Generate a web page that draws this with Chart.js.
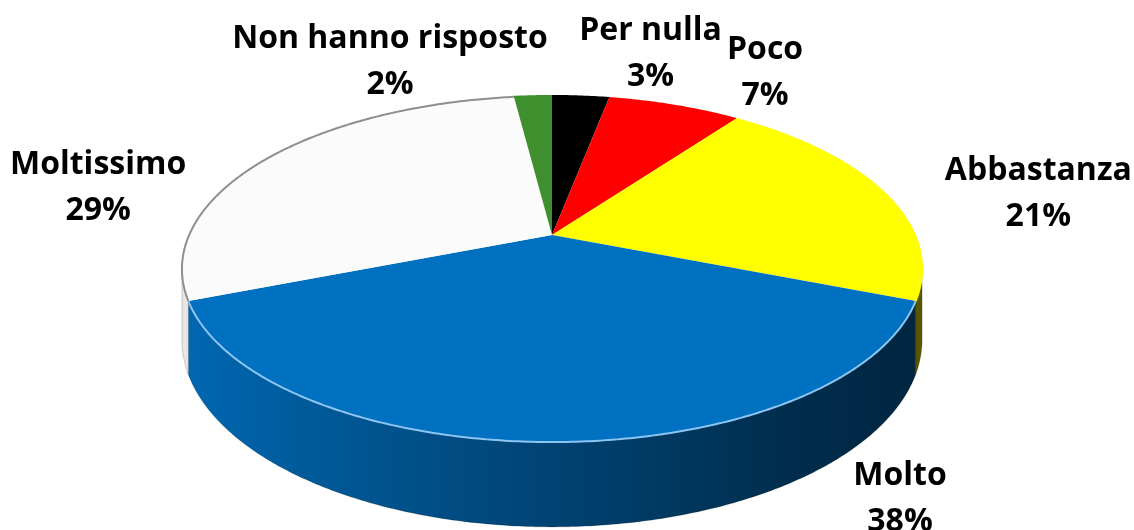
<!DOCTYPE html>
<html>
<head>
<meta charset="utf-8">
<script src="https://cdn.jsdelivr.net/npm/chart.js@4/dist/chart.umd.min.js"></script>
<style>
  html, body { margin: 0; padding: 0; background: #fff; }
</style>
</head>
<body>
<canvas id="pie" width="1134" height="530"></canvas>
<script>
const categories = ['Per nulla', 'Poco', 'Abbastanza', 'Molto', 'Moltissimo', 'Non hanno risposto'];
const percentages = [3, 7, 21, 38, 29, 2];
const sliceColors = ['#000000', '#ff0000', '#ffff00', '#0070c0', '#fbfbfb', '#3f8f2f'];
const rimColors = ['#000000', '#ff0000', '#ffff00', '#8cc4f2', '#8f8f8f', '#3f8f2f'];

// tilted-disc projection, all sizes relative to the pie radius
const VIEW = { sx: 1.544, sy: 0.708, tilt: 0.1965, depth: 0.29 };

function project(arc, t, drop) {
    const u = Math.cos(t), v = Math.sin(t);
    const w = 1 - VIEW.tilt * v;
    const r = arc.outerRadius;
    return [
        arc.x + r * VIEW.sx * u / w,
        arc.y + r * (VIEW.sy * v + (drop ? VIEW.depth : 0)) / w
    ];
}

function shade(hex, f) {
    const n = parseInt(hex.slice(1), 16);
    const c = [(n >> 16) & 255, (n >> 8) & 255, n & 255].map(x => Math.round(x * f));
    return `rgb(${c[0]},${c[1]},${c[2]})`;
}

class Arc3D extends Chart.ArcElement {
    draw(ctx) {
        const arc = this.getProps(['x', 'y', 'startAngle', 'endAngle', 'outerRadius']);
        const o = this.options;
        const s = arc.startAngle, e = arc.endAngle;
        const rimPath = (a, b, drop, first) => {
            const n = Math.max(2, Math.ceil(Math.abs(b - a) / 0.01));
            for (let i = 0; i <= n; i++) {
                const p = project(arc, a + (b - a) * i / n, drop);
                if (first && i === 0) ctx.moveTo(p[0], p[1]); else ctx.lineTo(p[0], p[1]);
            }
        };

        ctx.save();

        // front wall, only where the rim faces the viewer
        const edge = Math.asin(VIEW.tilt);
        const a = Math.max(s, edge), b = Math.min(e, Math.PI - edge);
        if (b > a) {
            const half = arc.outerRadius * VIEW.sx;
            const g = ctx.createLinearGradient(arc.x - half, 0, arc.x + half, 0);
            g.addColorStop(0, shade(o.backgroundColor, 0.92));
            g.addColorStop(0.16, shade(o.backgroundColor, 0.8));
            g.addColorStop(0.5, shade(o.backgroundColor, 0.6));
            g.addColorStop(0.83, shade(o.backgroundColor, 0.4));
            g.addColorStop(1, shade(o.backgroundColor, 0.34));
            ctx.beginPath();
            rimPath(a, b, false, true);
            rimPath(b, a, true, false);
            ctx.closePath();
            ctx.fillStyle = g;
            ctx.fill();
            ctx.lineWidth = 1;
            ctx.strokeStyle = 'rgba(0,0,0,0.18)';
            ctx.stroke();
        }

        // top face
        ctx.beginPath();
        ctx.moveTo(arc.x, arc.y);
        rimPath(s, e, false, false);
        ctx.closePath();
        ctx.fillStyle = o.backgroundColor;
        ctx.fill();

        ctx.beginPath();
        rimPath(s, e, false, true);
        ctx.lineWidth = 2;
        ctx.strokeStyle = o.borderColor;
        ctx.stroke();

        ctx.restore();
    }
}
Arc3D.id = 'arc3d';

class Pie3DController extends Chart.PieController {}
Pie3DController.id = 'pie3d';
Pie3DController.defaults = { dataElementType: 'arc3d' };

Chart.register(Arc3D, Pie3DController);

const sliceLabels = {
    id: 'sliceLabels',
    afterDatasetsDraw(chart, args, opts) {
        const ctx = chart.ctx;
        const meta = chart.getDatasetMeta(0);
        ctx.save();
        ctx.font = '700 32px "Open Sans"';
        ctx.fillStyle = '#000';
        ctx.textAlign = 'center';
        ctx.textBaseline = 'middle';
        meta.data.forEach((arc, i) => {
            const mid = (arc.startAngle + arc.endAngle) / 2;
            const p = project(arc, mid, false);
            const x = p[0] + opts.offsets[i][0];
            const y = p[1] + opts.offsets[i][1];
            ctx.fillText(categories[i], x, y - opts.lineGap / 2);
            ctx.fillText(percentages[i] + '%', x, y + opts.lineGap / 2);
        });
        ctx.restore();
    }
};

new Chart(document.getElementById('pie'), {
    type: 'pie3d',
    data: {
        labels: categories,
        datasets: [{
            data: percentages,
            backgroundColor: sliceColors,
            borderColor: rimColors,
            borderWidth: 0,
            hoverOffset: 0
        }]
    },
    options: {
        responsive: false,
        animation: false,
        events: [],
        layout: { padding: { left: 0, right: 30, top: 0, bottom: 60 } },
        plugins: {
            legend: { display: false },
            tooltip: { enabled: false },
            sliceLabels: {
                lineGap: 46,
                offsets: [[70, -43], [91, -33], [156, 3], [348, 57], [-170, 30], [-143, -34]]
            }
        }
    },
    plugins: [sliceLabels]
});
</script>
</body>
</html>
